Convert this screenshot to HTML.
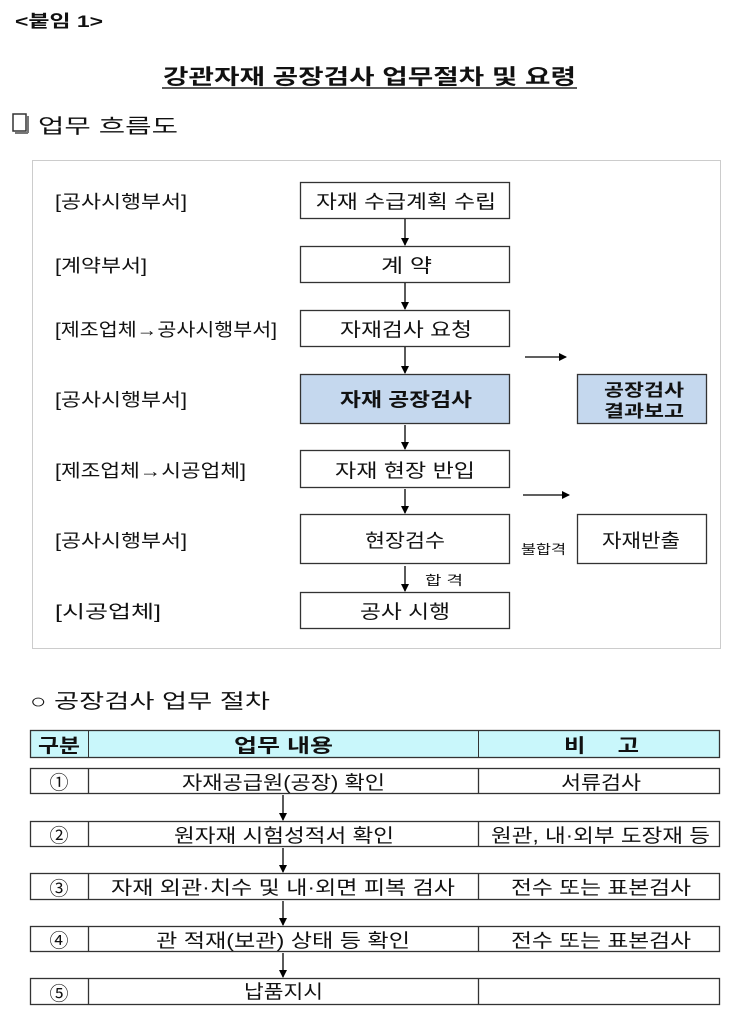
<!DOCTYPE html>
<html><head><meta charset="utf-8"><style>
html,body{margin:0;padding:0;background:#fff;}
body{width:737px;height:1024px;position:relative;overflow:hidden;font-family:"Liberation Sans","Noto Sans CJK KR",sans-serif;}
svg{position:absolute;left:0;top:0;}
text{font-family:"Liberation Sans","Noto Sans CJK KR",sans-serif;fill:#111;}
</style></head><body>
<svg width="737" height="1024" viewBox="0 0 737 1024">
<defs><marker id="a" markerWidth="8" markerHeight="8" refX="7" refY="4" orient="auto" markerUnits="userSpaceOnUse"><path d="M0,0 L8,4 L0,8 z" fill="#000"/></marker></defs>
<g lengthAdjust="spacingAndGlyphs">
<text x="15" y="27" font-size="17" font-weight="bold" textLength="88" lengthAdjust="spacingAndGlyphs">&lt;붙임 1&gt;</text>
<text x="163" y="84" font-size="21" font-weight="bold" textLength="413" lengthAdjust="spacingAndGlyphs">강관자재 공장검사 업무절차 및 요령</text>
<line x1="162" y1="88" x2="577" y2="88" stroke="#222" stroke-width="1.5"/>
<rect x="13" y="114" width="13" height="17" fill="#fff" stroke="#333" stroke-width="1.5"/>
<line x1="15" y1="133" x2="28" y2="133" stroke="#777" stroke-width="2"/><line x1="28" y1="116" x2="28" y2="133" stroke="#777" stroke-width="2"/>
<text x="38" y="133" font-size="20" textLength="140" lengthAdjust="spacingAndGlyphs">업무 흐름도</text>
<rect x="32.5" y="160.5" width="688" height="488" fill="none" stroke="#999" stroke-dasharray="1,1"/>
<g font-size="18">
<text x="55" y="208" textLength="132" lengthAdjust="spacingAndGlyphs">[공사시행부서]</text>
<text x="55" y="272" textLength="92" lengthAdjust="spacingAndGlyphs">[계약부서]</text>
<text x="55" y="336" textLength="222" lengthAdjust="spacingAndGlyphs">[제조업체→공사시행부서]</text>
<text x="55" y="406" textLength="132" lengthAdjust="spacingAndGlyphs">[공사시행부서]</text>
<text x="55" y="477" textLength="191" lengthAdjust="spacingAndGlyphs">[제조업체→시공업체]</text>
<text x="55" y="547" textLength="132" lengthAdjust="spacingAndGlyphs">[공사시행부서]</text>
<text x="55" y="618" textLength="106" lengthAdjust="spacingAndGlyphs">[시공업체]</text>
</g>
<g stroke="#333" stroke-width="1.3" fill="#fff">
<rect x="300.5" y="182.5" width="209" height="36"/>
<rect x="300.5" y="246.5" width="209" height="36"/>
<rect x="300.5" y="310.5" width="209" height="36"/>
<rect x="300.5" y="374.5" width="209" height="49" fill="#c5d8ee"/>
<rect x="577.5" y="374.5" width="129" height="49" fill="#c5d8ee"/>
<rect x="300.5" y="450.5" width="209" height="37"/>
<rect x="300.5" y="514.5" width="209" height="49"/>
<rect x="577.5" y="514.5" width="129" height="49"/>
<rect x="300.5" y="592.5" width="209" height="36"/>
</g>
<g font-size="19">
<text x="316" y="208" textLength="180" lengthAdjust="spacingAndGlyphs">자재 수급계획 수립</text>
<text x="381" y="272" textLength="51" lengthAdjust="spacingAndGlyphs">계 약</text>
<text x="340" y="336" textLength="132" lengthAdjust="spacingAndGlyphs">자재검사 요청</text>
<text x="340" y="406" font-weight="bold" textLength="132" lengthAdjust="spacingAndGlyphs">자재 공장검사</text>
<text x="335" y="477" textLength="140" lengthAdjust="spacingAndGlyphs">자재 현장 반입</text>
<text x="365" y="547" textLength="80" lengthAdjust="spacingAndGlyphs">현장검수</text>
<text x="360" y="618" textLength="90" lengthAdjust="spacingAndGlyphs">공사 시행</text>
<text x="602" y="547" textLength="78" lengthAdjust="spacingAndGlyphs">자재반출</text>
</g>
<text x="604" y="396" font-size="17" font-weight="bold" textLength="80" lengthAdjust="spacingAndGlyphs">공장검사</text>
<text x="604" y="417" font-size="17" font-weight="bold" textLength="80" lengthAdjust="spacingAndGlyphs">결과보고</text>
<text x="521" y="554" font-size="13" textLength="45" lengthAdjust="spacingAndGlyphs">불합격</text>
<text x="425" y="585" font-size="13" textLength="38" lengthAdjust="spacingAndGlyphs">합 격</text>
<g stroke="#000" stroke-width="1.3" marker-end="url(#a)">
<line x1="405" y1="219" x2="405" y2="245"/>
<line x1="405" y1="283" x2="405" y2="309"/>
<line x1="405" y1="347" x2="405" y2="373"/>
<line x1="405" y1="425" x2="405" y2="449"/>
<line x1="405" y1="489" x2="405" y2="513"/>
<line x1="405" y1="566" x2="405" y2="591"/>
<line x1="525" y1="357" x2="566" y2="357"/>
<line x1="523" y1="495" x2="569" y2="495"/>
</g>
<text x="30" y="708" font-size="20" textLength="240" lengthAdjust="spacingAndGlyphs">○ 공장검사 업무 절차</text>
<rect x="30.5" y="730.5" width="689" height="27" fill="#c9f7fb" stroke="#333" stroke-width="1.3"/>
<line x1="88.5" y1="730" x2="88.5" y2="758" stroke="#333"/><line x1="478.5" y1="730" x2="478.5" y2="758" stroke="#333"/>
<g font-size="19" font-weight="bold">
<text x="38" y="752" textLength="42" lengthAdjust="spacingAndGlyphs">구분</text><text x="234" y="752" textLength="99" lengthAdjust="spacingAndGlyphs">업무 내용</text><text x="564" y="752" textLength="75" lengthAdjust="spacingAndGlyphs">비&#160;&#160;&#160;&#160;&#160;고</text>
</g>
<g stroke="#333" stroke-width="1.3" fill="none">
<rect x="30.5" y="768.5" width="689" height="25"/><rect x="30.5" y="821.5" width="689" height="25"/><rect x="30.5" y="873.5" width="689" height="26"/><rect x="30.5" y="926.5" width="689" height="25"/><rect x="30.5" y="978.5" width="689" height="26"/>
<path d="M88.5 768v26M478.5 768v26M88.5 821v26M478.5 821v26M88.5 873v27M478.5 873v27M88.5 926v26M478.5 926v26M88.5 978v27M478.5 978v27"/>
</g>
<g stroke="#000" stroke-width="1.3" marker-end="url(#a)">
<line x1="283" y1="795" x2="283" y2="820"/><line x1="283" y1="848" x2="283" y2="872"/><line x1="283" y1="901" x2="283" y2="925"/><line x1="283" y1="953" x2="283" y2="977"/>
</g>
<g font-size="19">
<text x="59" y="789" text-anchor="middle">①</text><text x="182" y="789" textLength="203" lengthAdjust="spacingAndGlyphs">자재공급원(공장) 확인</text><text x="561" y="789" textLength="80" lengthAdjust="spacingAndGlyphs">서류검사</text>
<text x="59" y="842" text-anchor="middle">②</text><text x="174" y="842" textLength="220" lengthAdjust="spacingAndGlyphs">원자재 시험성적서 확인</text><text x="491" y="842" textLength="219" lengthAdjust="spacingAndGlyphs">원관, 내·외부 도장재 등</text>
<text x="59" y="895" text-anchor="middle">③</text><text x="111" y="894" textLength="344" lengthAdjust="spacingAndGlyphs">자재 외관·치수 및 내·외면 피복 검사</text><text x="511" y="894" textLength="180" lengthAdjust="spacingAndGlyphs">전수 또는 표본검사</text>
<text x="59" y="947" text-anchor="middle">④</text><text x="156" y="947" textLength="254" lengthAdjust="spacingAndGlyphs">관 적재(보관) 상태 등 확인</text><text x="511" y="947" textLength="180" lengthAdjust="spacingAndGlyphs">전수 또는 표본검사</text>
<text x="59" y="1000" text-anchor="middle">⑤</text><text x="244" y="998" textLength="79" lengthAdjust="spacingAndGlyphs">납품지시</text>
</g>
</g>
</svg>
</body></html>
